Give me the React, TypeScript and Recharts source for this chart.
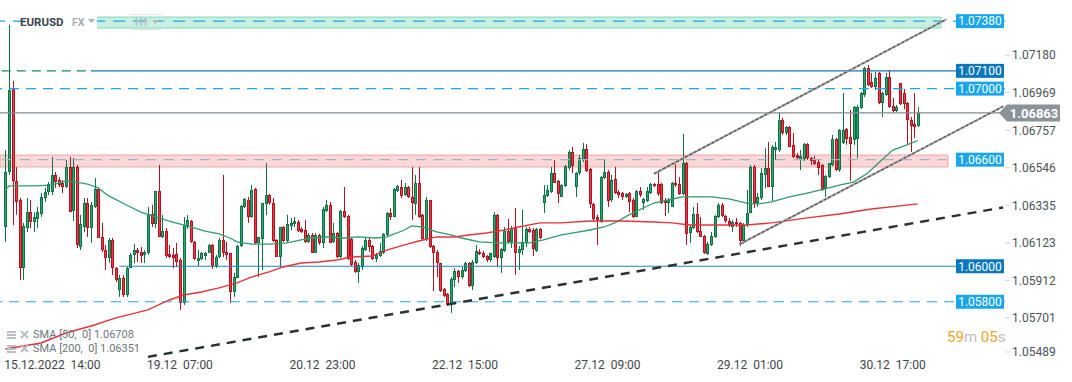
import React from "react";
import { Bar, ComposedChart, Line, ReferenceArea, ReferenceLine, XAxis, YAxis } from "recharts";

// EURUSD H1 candles (oldest first)
const opens = [
  1.06221, 1.06531, 1.06998, 1.0648, 1.06373, 1.0599, 1.06215, 1.06305, 1.06249, 1.06266,
  1.06294, 1.06384, 1.06418, 1.06418, 1.06514, 1.06486, 1.06469, 1.06446, 1.06559, 1.06311,
  1.06559, 1.06108, 1.06221, 1.06356, 1.06215, 1.06334, 1.06435, 1.06165, 1.06091, 1.06046,
  1.06148, 1.0599, 1.05866, 1.05934, 1.05838, 1.0599, 1.06063, 1.06091, 1.0608, 1.06063,
  1.06075, 1.06294, 1.06238, 1.06424, 1.06165, 1.06198, 1.06069, 1.06063, 1.06069, 1.06035,
  1.05793, 1.06221, 1.06255, 1.06137, 1.0603, 1.06041, 1.06058, 1.06075, 1.0612, 1.06001,
  1.06052, 1.06148, 1.0608, 1.06075, 1.05855, 1.05934, 1.06114, 1.06334, 1.06373, 1.06277,
  1.06435, 1.06131, 1.06153, 1.0635, 1.06401, 1.06356, 1.06148, 1.06052, 1.06221, 1.06142,
  1.06227, 1.06238, 1.06249, 1.0621, 1.06204, 1.06137, 1.06176, 1.06075, 1.06176, 1.06131,
  1.06311, 1.06345, 1.06137, 1.06187, 1.06052, 1.06311, 1.06283, 1.06153, 1.06024, 1.05968,
  1.05996, 1.06091, 1.06148, 1.06114, 1.06041, 1.06058, 1.06075, 1.06176, 1.063, 1.06277,
  1.06424, 1.06446, 1.06401, 1.06446, 1.0639, 1.0635, 1.06469, 1.06289, 1.06153, 1.06373,
  1.06114, 1.0608, 1.06018, 1.05872, 1.05844, 1.05782, 1.05923, 1.05973, 1.05939, 1.05973,
  1.06018, 1.05889, 1.06018, 1.0608, 1.06075, 1.06058, 1.06035, 1.06052, 1.06289, 1.06046,
  1.06086, 1.06198, 1.06137, 1.06215, 1.06075, 1.06091, 1.06131, 1.0621, 1.06204, 1.06086,
  1.0621, 1.06356, 1.06396, 1.06418, 1.06525, 1.0648, 1.0639, 1.06452, 1.06553, 1.06643,
  1.06446, 1.06525, 1.06598, 1.0666, 1.06548, 1.0635, 1.06277, 1.06249, 1.06497, 1.06531,
  1.06373, 1.06491, 1.06418, 1.06412, 1.0639, 1.06412, 1.06373, 1.06277, 1.06424, 1.06356,
  1.06367, 1.06412, 1.06463, 1.06463, 1.06463, 1.06373, 1.06356, 1.06334, 1.06469, 1.06463,
  1.06407, 1.06581, 1.06187, 1.06215, 1.06294, 1.06198, 1.0617, 1.06069, 1.0612, 1.06165,
  1.06277, 1.06345, 1.06283, 1.06255, 1.06221, 1.06249, 1.06244, 1.06142, 1.06232, 1.063,
  1.06559, 1.06356, 1.06384, 1.06514, 1.06553, 1.06446, 1.06654, 1.06654, 1.06823, 1.0675,
  1.06784, 1.06683, 1.06626, 1.06604, 1.06604, 1.06688, 1.06609, 1.06598, 1.06587, 1.0657,
  1.06435, 1.06502, 1.0657, 1.06716, 1.06542, 1.06694, 1.06773, 1.06728, 1.06711, 1.06716,
  1.06891, 1.06964, 1.07116, 1.07037, 1.07009, 1.07088, 1.06919, 1.06964, 1.07065, 1.06902,
  1.06874, 1.07032, 1.06975, 1.06919, 1.06823, 1.06801, 1.0679,
];
const highs = [
  1.06654, 1.07358, 1.07043, 1.06559, 1.06384, 1.06244, 1.06384, 1.06373, 1.06305, 1.06334,
  1.06412, 1.06441, 1.06474, 1.06615, 1.06531, 1.06502, 1.06486, 1.06598, 1.06615, 1.06609,
  1.0657, 1.06289, 1.06384, 1.06384, 1.06362, 1.06497, 1.06441, 1.06244, 1.0612, 1.06159,
  1.06159, 1.05996, 1.05951, 1.05951, 1.05996, 1.06075, 1.06125, 1.06103, 1.06108, 1.06091,
  1.06334, 1.06345, 1.06424, 1.0657, 1.06289, 1.06215, 1.0612, 1.06103, 1.06131, 1.06046,
  1.06277, 1.06289, 1.0626, 1.06142, 1.06091, 1.0608, 1.0608, 1.06125, 1.06125, 1.06063,
  1.06159, 1.06514, 1.06137, 1.06075, 1.05962, 1.0612, 1.06345, 1.06384, 1.0639, 1.06457,
  1.06441, 1.06165, 1.06356, 1.06581, 1.06407, 1.06384, 1.06153, 1.06221, 1.06227, 1.06289,
  1.06272, 1.06277, 1.0626, 1.06221, 1.0626, 1.06187, 1.06187, 1.06187, 1.06182, 1.06334,
  1.06373, 1.06362, 1.06244, 1.06193, 1.06317, 1.06446, 1.06289, 1.06159, 1.06035, 1.06018,
  1.06114, 1.06165, 1.06159, 1.0612, 1.06075, 1.06131, 1.06187, 1.06305, 1.06328, 1.06441,
  1.06457, 1.06486, 1.06469, 1.06452, 1.06559, 1.06514, 1.06559, 1.06294, 1.0639, 1.06373,
  1.0612, 1.06091, 1.06018, 1.05878, 1.05849, 1.05939, 1.0599, 1.05979, 1.05996, 1.06024,
  1.06024, 1.06035, 1.0612, 1.06097, 1.06086, 1.06063, 1.06075, 1.06305, 1.06294, 1.06103,
  1.06221, 1.06266, 1.06227, 1.06328, 1.06114, 1.06317, 1.06221, 1.06221, 1.06215, 1.06215,
  1.06215, 1.06457, 1.06457, 1.06559, 1.06598, 1.06486, 1.06463, 1.0657, 1.06654, 1.06671,
  1.06531, 1.06626, 1.06694, 1.06688, 1.06553, 1.06356, 1.06289, 1.06508, 1.06604, 1.06542,
  1.06514, 1.06559, 1.06429, 1.06418, 1.06412, 1.06418, 1.06384, 1.06429, 1.06446, 1.06384,
  1.06446, 1.06469, 1.06469, 1.06542, 1.06469, 1.06384, 1.06384, 1.06474, 1.06576, 1.06502,
  1.06745, 1.06587, 1.06232, 1.06334, 1.06356, 1.06277, 1.06176, 1.06137, 1.06193, 1.06289,
  1.06356, 1.06356, 1.06289, 1.06272, 1.0626, 1.06272, 1.06249, 1.06244, 1.06429, 1.0657,
  1.0657, 1.06412, 1.06553, 1.06666, 1.067, 1.06683, 1.067, 1.06868, 1.06835, 1.0679,
  1.0679, 1.0675, 1.06638, 1.06654, 1.06694, 1.06694, 1.06615, 1.06621, 1.06598, 1.06576,
  1.06514, 1.06581, 1.06739, 1.06722, 1.06773, 1.06975, 1.06778, 1.0688, 1.06902, 1.06908,
  1.06981, 1.07122, 1.07133, 1.07088, 1.07094, 1.07094, 1.06981, 1.07088, 1.07105, 1.06947,
  1.06908, 1.07032, 1.06998, 1.06925, 1.0684, 1.06975, 1.06897,
];
const lows = [
  1.06137, 1.06514, 1.06232, 1.06289, 1.05923, 1.05923, 1.06193, 1.06215, 1.06193, 1.06215,
  1.06277, 1.06362, 1.06401, 1.06401, 1.06441, 1.06446, 1.06412, 1.06441, 1.06305, 1.06255,
  1.06103, 1.06091, 1.06193, 1.06165, 1.06131, 1.06328, 1.06159, 1.0608, 1.05979, 1.06018,
  1.05951, 1.05911, 1.05827, 1.05827, 1.05827, 1.0599, 1.06018, 1.06024, 1.06018, 1.06018,
  1.06063, 1.06221, 1.06215, 1.06165, 1.06159, 1.06046, 1.06046, 1.0599, 1.05996, 1.05754,
  1.05782, 1.0621, 1.06131, 1.06035, 1.06001, 1.06035, 1.06035, 1.06075, 1.05985, 1.0599,
  1.06046, 1.06052, 1.06035, 1.05793, 1.05827, 1.05934, 1.06108, 1.06328, 1.06244, 1.06272,
  1.06125, 1.05939, 1.05979, 1.06289, 1.06345, 1.06137, 1.06052, 1.05996, 1.06137, 1.06137,
  1.06204, 1.06221, 1.06193, 1.06187, 1.06131, 1.06131, 1.06075, 1.06075, 1.0612, 1.06103,
  1.06305, 1.06131, 1.06131, 1.06046, 1.06046, 1.06272, 1.06035, 1.06001, 1.05962, 1.05906,
  1.05979, 1.06086, 1.0608, 1.06035, 1.06024, 1.06052, 1.06069, 1.0617, 1.0626, 1.06277,
  1.06418, 1.06384, 1.06396, 1.06384, 1.0626, 1.06289, 1.06272, 1.06148, 1.06142, 1.06103,
  1.05861, 1.05939, 1.05855, 1.05827, 1.05776, 1.05737, 1.05883, 1.05906, 1.05928, 1.05968,
  1.05883, 1.05866, 1.06013, 1.06063, 1.06046, 1.06024, 1.06024, 1.06046, 1.05996, 1.05962,
  1.0608, 1.06131, 1.06103, 1.05951, 1.05979, 1.06063, 1.06108, 1.06187, 1.06058, 1.0608,
  1.06153, 1.063, 1.0639, 1.06412, 1.06469, 1.06356, 1.0639, 1.06446, 1.06542, 1.06525,
  1.0639, 1.06514, 1.06587, 1.06531, 1.06328, 1.06249, 1.0612, 1.06244, 1.06491, 1.06334,
  1.06362, 1.06407, 1.06384, 1.06373, 1.06384, 1.06305, 1.06272, 1.06277, 1.0639, 1.06317,
  1.06362, 1.06407, 1.06446, 1.06396, 1.0635, 1.06283, 1.063, 1.06334, 1.06446, 1.06401,
  1.06401, 1.0612, 1.06131, 1.0621, 1.06187, 1.06165, 1.06069, 1.06063, 1.06114, 1.06159,
  1.06272, 1.06277, 1.06244, 1.06221, 1.06193, 1.06221, 1.06114, 1.06125, 1.06221, 1.063,
  1.06328, 1.06334, 1.06373, 1.06441, 1.06446, 1.06362, 1.06598, 1.06643, 1.06739, 1.06739,
  1.06671, 1.06609, 1.06598, 1.06542, 1.06593, 1.06598, 1.0657, 1.0657, 1.06514, 1.06424,
  1.0639, 1.06497, 1.06564, 1.06536, 1.06531, 1.06688, 1.06683, 1.0648, 1.06683, 1.06609,
  1.06885, 1.06953, 1.07015, 1.07004, 1.06992, 1.06913, 1.0684, 1.06959, 1.06891, 1.06863,
  1.06868, 1.06908, 1.06885, 1.06683, 1.06643, 1.06722, 1.06784,
];
const closes = [
  1.06531, 1.06992, 1.0648, 1.06362, 1.0599, 1.06227, 1.06305, 1.06249, 1.06277, 1.06305,
  1.0639, 1.06418, 1.06463, 1.06514, 1.06474, 1.06457, 1.06446, 1.06559, 1.06305, 1.06559,
  1.0612, 1.06238, 1.06356, 1.06215, 1.06345, 1.06435, 1.06159, 1.06091, 1.06046, 1.06148,
  1.0599, 1.05923, 1.05934, 1.05838, 1.0599, 1.06063, 1.06091, 1.06075, 1.06058, 1.0608,
  1.06294, 1.06238, 1.06424, 1.06165, 1.06198, 1.06058, 1.06052, 1.06046, 1.06024, 1.05793,
  1.06232, 1.0626, 1.06137, 1.06041, 1.06046, 1.06075, 1.06075, 1.0612, 1.06001, 1.06052,
  1.06148, 1.06075, 1.06063, 1.05855, 1.05939, 1.06114, 1.06339, 1.06379, 1.06277, 1.06429,
  1.06131, 1.06165, 1.06356, 1.06401, 1.06356, 1.06142, 1.06052, 1.06221, 1.06142, 1.06238,
  1.06244, 1.06255, 1.06198, 1.06193, 1.06137, 1.06176, 1.06075, 1.06176, 1.06131, 1.06322,
  1.06345, 1.06131, 1.06187, 1.06052, 1.06311, 1.06277, 1.06041, 1.06007, 1.05968, 1.06007,
  1.06103, 1.06148, 1.06108, 1.06041, 1.06063, 1.06086, 1.06182, 1.063, 1.06277, 1.06435,
  1.06452, 1.06396, 1.06446, 1.0639, 1.06356, 1.06469, 1.06277, 1.06153, 1.06373, 1.06108,
  1.06075, 1.06018, 1.05861, 1.05833, 1.05782, 1.05928, 1.05973, 1.05939, 1.05979, 1.06018,
  1.05889, 1.06024, 1.06086, 1.06069, 1.06052, 1.06035, 1.06075, 1.06289, 1.06046, 1.06097,
  1.06198, 1.06137, 1.06215, 1.06075, 1.06097, 1.06137, 1.0621, 1.06193, 1.06097, 1.0621,
  1.06159, 1.06401, 1.06429, 1.06525, 1.06469, 1.06407, 1.06457, 1.06564, 1.06643, 1.06564,
  1.06525, 1.06609, 1.0666, 1.06536, 1.0635, 1.06266, 1.0626, 1.06502, 1.06531, 1.06367,
  1.06486, 1.06412, 1.06401, 1.0639, 1.06407, 1.06362, 1.06277, 1.06424, 1.06401, 1.06379,
  1.06424, 1.06463, 1.06452, 1.06407, 1.06356, 1.06356, 1.06373, 1.06469, 1.06457, 1.06407,
  1.06581, 1.06182, 1.06221, 1.06294, 1.06193, 1.06165, 1.06075, 1.06125, 1.0617, 1.06283,
  1.06345, 1.06283, 1.06255, 1.06227, 1.06249, 1.06238, 1.06142, 1.06232, 1.063, 1.06559,
  1.06356, 1.0639, 1.06525, 1.06553, 1.06446, 1.06671, 1.06671, 1.06823, 1.0675, 1.06784,
  1.06671, 1.06615, 1.06609, 1.06621, 1.06688, 1.06609, 1.06593, 1.06576, 1.06553, 1.06429,
  1.06508, 1.06581, 1.06716, 1.06542, 1.06767, 1.06767, 1.06716, 1.06688, 1.06897, 1.06897,
  1.06975, 1.07116, 1.0702, 1.07009, 1.0706, 1.06919, 1.06975, 1.07065, 1.06897, 1.06874,
  1.06897, 1.06913, 1.06913, 1.06823, 1.0679, 1.06784, 1.06863,
];

// moving averages, [candle index, value]
const sma50: [number, number][] = [
  [0, 1.06429], [1, 1.06452], [8, 1.06452], [13, 1.06457], [17, 1.0648], [20, 1.06474],
  [23, 1.06463], [26, 1.06441], [29, 1.06396], [34, 1.06345], [38, 1.06305], [43, 1.06272],
  [47, 1.06249], [51, 1.06227], [56, 1.06198], [60, 1.06182], [63, 1.06159], [65, 1.06137],
  [69, 1.06125], [74, 1.06125], [79, 1.06131], [83, 1.06148], [86, 1.06159], [90, 1.06165],
  [95, 1.06159], [99, 1.06165], [104, 1.06159], [107, 1.06165], [112, 1.06204], [114, 1.06227],
  [117, 1.06221], [121, 1.06193], [125, 1.06176], [128, 1.06159], [133, 1.06137], [138, 1.06131],
  [147, 1.06131], [151, 1.06148], [156, 1.06176], [159, 1.06187], [164, 1.06204], [168, 1.06221],
  [171, 1.06244], [175, 1.06289], [179, 1.06328], [182, 1.06356], [186, 1.06373], [190, 1.0639],
  [198, 1.0639], [203, 1.06379], [208, 1.06356], [211, 1.0635], [215, 1.06362], [220, 1.0639],
  [225, 1.06412], [230, 1.06435], [234, 1.06457], [238, 1.06474], [242, 1.06525], [245, 1.06581],
  [249, 1.06654], [253, 1.06683], [256, 1.06708],
];
const sma200: [number, number][] = [
  [0, 1.05534], [10, 1.05568], [17, 1.05624], [25, 1.05669], [31, 1.05709], [40, 1.05754],
  [46, 1.0581], [50, 1.05838], [55, 1.05855], [60, 1.05878], [65, 1.05906], [69, 1.05939],
  [74, 1.05968], [78, 1.05996], [83, 1.06018], [88, 1.06024], [93, 1.06035], [97, 1.06052],
  [103, 1.06058], [107, 1.06091], [112, 1.0612], [116, 1.06142], [121, 1.06165], [126, 1.06165],
  [130, 1.06176], [135, 1.06187], [140, 1.06204], [144, 1.06221], [150, 1.06244], [156, 1.06244],
  [164, 1.06255], [173, 1.06255], [182, 1.06249], [187, 1.06244], [192, 1.06232], [208, 1.06232],
  [215, 1.06244], [225, 1.06272], [234, 1.06294], [243, 1.06322], [256, 1.06351],
];

const timeTicks = [0, 40, 80, 120, 160, 200, 240];
const timeLabels = ["15.12.2022  14:00", "19.12  07:00", "20.12  23:00", "22.12  15:00", "27.12  09:00", "29.12  01:00", "30.12  17:00"];
const priceTicks = [1.05489, 1.05701, 1.05912, 1.06123, 1.06335, 1.06546, 1.06757, 1.06969, 1.0718];

const lastPrice = 1.06863;
const sma50Last = 1.06708;
const sma200Last = 1.06351;
const supportZone: [number, number] = [1.06559, 1.06626];
const targetZone: [number, number] = [1.07341, 1.07403];
const channelUpper: [number, number][] = [[182, 1.06521], [264, 1.0739]];
const channelLower: [number, number][] = [[206, 1.06124], [280, 1.069]];
const longTrend: [number, number][] = [[40, 1.0549], [280, 1.06331]];

const PAD_LEFT = 1;
const PAD_RIGHT = 24;
const W = 1072;
const H = 382;
const FONT = "Roboto, 'Noto Sans', sans-serif";

const BRIGHT = "#1aa6ee";
const DARK = "#0b78bd";

type Row = { i: number; range?: [number, number]; o?: number; c?: number; s50?: number; s200?: number };

const rows: Row[] = [];
for (let i = -PAD_LEFT; i < opens.length + PAD_RIGHT; i++) {
  const r: Row = { i };
  if (i >= 0 && i < opens.length) {
    r.range = [lows[i], highs[i]];
    r.o = opens[i];
    r.c = closes[i];
  }
  rows.push(r);
}
for (const [k, v] of sma50) rows[k + PAD_LEFT].s50 = v;
for (const [k, v] of sma200) rows[k + PAD_LEFT].s200 = v;

function Candle(props: any) {
  const { x, y, width, height, payload } = props;
  if (!payload || !payload.range || !(height > 0)) return null;
  const [lo, hi] = payload.range;
  const k = height / (hi - lo);
  const at = (v: number) => y + (hi - v) * k;
  const up = payload.c >= payload.o;
  const edge = up ? "#0f7246" : "#b3121e";
  const fill = up ? "#2aa86d" : "#ec3a47";
  const cx = Math.round(x + width / 2) + 0.5;
  const top = at(Math.max(payload.o, payload.c));
  const bot = at(Math.min(payload.o, payload.c));
  const bh = Math.max(bot - top, 1);
  return (
    <g>
      <line x1={cx} x2={cx} y1={y} y2={y + height} stroke={edge} strokeWidth={1} />
      <rect x={cx - 1.5} y={top} width={3} height={bh} fill={edge} />
      {bh > 2 && <rect x={cx - 0.5} y={top + 1} width={1} height={bh - 2} fill={fill} />}
    </g>
  );
}

const levelTag = (text: string, bg: string) => (props: any) => {
  const vb = props.viewBox;
  if (!vb) return null;
  const x = vb.x + vb.width - 49;
  return (
    <g>
      <rect x={x} y={vb.y - 7} width={48} height={14} fill={bg} />
      <text x={x + 24} y={vb.y + 4.3} textAnchor="middle" fill="#fff" fontSize={12} fontFamily={FONT}>
        {text}
      </text>
    </g>
  );
};

const priceTag = (props: any) => {
  const vb = props.viewBox;
  if (!vb) return null;
  const x0 = vb.x + vb.width - 6;
  const y = vb.y;
  return (
    <g>
      <polygon
        points={`${x0},${y} ${x0 + 8},${y - 8.5} ${x0 + 61},${y - 8.5} ${x0 + 61},${y + 8.5} ${x0 + 8},${y + 8.5}`}
        fill="#8a9398"
      />
      <text x={x0 + 35} y={y + 4.6} textAnchor="middle" fill="#fff" fontSize={13} fontWeight={700} fontFamily={FONT}>
        {lastPrice.toFixed(5)}
      </text>
    </g>
  );
};

function PriceTick(props: any) {
  const { x, y, payload } = props;
  const ty = Math.min(y - 1.5, 352);
  return (
    <g>
      <line x1={x} x2={x + 5} y1={ty} y2={ty} stroke="#d3d7da" />
      <text x={x + 7} y={ty + 4.3} fontSize={12} fill="#4d5358" fontFamily={FONT}>
        {Number(payload.value).toFixed(5)}
      </text>
    </g>
  );
}

function TimeTick(props: any) {
  const { x, y, payload } = props;
  const k = timeTicks.indexOf(payload.value);
  return (
    <text x={x - 1} y={y + 12} fontSize={12} fill="#3f464b" fontFamily={FONT} style={{ whiteSpace: "pre" }}>
      {timeLabels[k]}
    </text>
  );
}

const seg = (p: [number, number][]) => p.map(([x, y]) => ({ x, y }));

function LegendIcons() {
  return (
    <svg width={24} height={10} style={{ marginRight: 3 }}>
      <rect x={1} y={1} width={9} height={2} fill="#b9bfc4" />
      <rect x={1} y={4} width={9} height={2} fill="#b9bfc4" />
      <rect x={1} y={7} width={9} height={2} fill="#b9bfc4" />
      <path d="M15 1 L22 8 M22 1 L15 8" stroke="#b9bfc4" strokeWidth={2} />
    </svg>
  );
}

export default function App() {
  return (
    <div style={{ position: "absolute", left: 0, top: 0, width: W, height: H, background: "#fff", fontFamily: FONT }}>
      <ComposedChart width={W} height={H} data={rows} margin={{ top: 0, right: 0, bottom: 0, left: 0 }}>
        <XAxis
          dataKey="i"
          type="category"
          height={25}
          axisLine={false}
          tickLine={false}
          tickSize={0}
          tickMargin={0}
          ticks={timeTicks}
          interval={0}
          tick={<TimeTick />}
        />
        <YAxis
          orientation="right"
          type="number"
          width={67}
          domain={[1.05489, 1.07499]}
          allowDataOverflow
          axisLine={false}
          tickLine={false}
          tickSize={0}
          tickMargin={0}
          ticks={priceTicks}
          interval={0}
          tick={<PriceTick />}
        />

        <ReferenceLine y={1.0738} stroke={BRIGHT} strokeDasharray="12 8" strokeWidth={1.2} />
        <ReferenceLine segment={[{ x: 24, y: 1.071 }, { x: 280, y: 1.071 }]} stroke="#1a72ad" strokeWidth={1.2} />
        <ReferenceLine segment={[{ x: -1, y: 1.071 }, { x: 24, y: 1.071 }]} stroke="#178a57" strokeDasharray="9 6" strokeWidth={1.2} />
        <ReferenceLine y={1.07} stroke={BRIGHT} strokeDasharray="10 7" strokeWidth={1.2} />
        <ReferenceLine segment={[{ x: 32, y: 1.06 }, { x: 280, y: 1.06 }]} stroke="#1c83c4" strokeWidth={1.2} />
        <ReferenceLine y={1.058} stroke={BRIGHT} strokeDasharray="10 7" strokeWidth={1.2} />
        <ReferenceLine y={lastPrice} stroke="#838d92" strokeWidth={1.2} />

        <Line dataKey="s50" type="linear" connectNulls dot={false} stroke="#2f9c6a" strokeWidth={1.3} isAnimationActive={false} />
        <Line dataKey="s200" type="linear" connectNulls dot={false} stroke="#e2353c" strokeWidth={1.4} isAnimationActive={false} />

        <Bar dataKey="range" shape={(p: any) => <Candle {...p} />} isAnimationActive={false} />

        <ReferenceLine segment={seg(longTrend)} stroke="#2a3136" strokeWidth={2.4} strokeDasharray="9 7" ifOverflow="visible" />
        <ReferenceLine segment={seg(channelUpper)} stroke="#a2a2a2" strokeWidth={2.2} ifOverflow="visible" />
        <ReferenceLine segment={seg(channelUpper)} stroke="#555" strokeWidth={1.2} strokeDasharray="3 2" ifOverflow="visible" />
        <ReferenceLine segment={seg(channelLower)} stroke="#a2a2a2" strokeWidth={2.2} ifOverflow="visible" />
        <ReferenceLine segment={seg(channelLower)} stroke="#555" strokeWidth={1.2} strokeDasharray="3 2" ifOverflow="visible" />

        <ReferenceArea x1={-1} x2={264} y1={supportZone[0]} y2={supportZone[1]} fill="#f7a6a6" fillOpacity={0.45} stroke="#f2a3a3" strokeWidth={1} />
        <ReferenceLine segment={[{ x: -1, y: 1.066 }, { x: 264, y: 1.066 }]} stroke="#9eb4c9" strokeDasharray="10 8" strokeWidth={1.2} />
        <ReferenceArea x1={26} x2={262} y1={targetZone[0]} y2={targetZone[1]} fill="#8fe2c2" fillOpacity={0.5} stroke="#7fd9b6" strokeWidth={1} />

        <ReferenceLine y={1.0738} stroke="none" label={levelTag("1.07380", BRIGHT)} />
        <ReferenceLine y={1.071} stroke="none" label={levelTag("1.07100", DARK)} />
        <ReferenceLine y={1.07} stroke="none" label={levelTag("1.07000", BRIGHT)} />
        <ReferenceLine y={1.066} stroke="none" label={levelTag("1.06600", BRIGHT)} />
        <ReferenceLine y={1.06} stroke="none" label={levelTag("1.06000", DARK)} />
        <ReferenceLine y={1.058} stroke="none" label={levelTag("1.05800", BRIGHT)} />
        <ReferenceLine y={lastPrice} stroke="none" label={priceTag} />
      </ComposedChart>

      {/* instrument header */}
      <div style={{ position: "absolute", left: 25, top: 13, width: 72, height: 18, background: "#fff" }} />
      <div style={{ position: "absolute", left: 20, top: 15, fontSize: 11.5, fontWeight: 700, color: "#39444d" }}>EURUSD</div>
      <div style={{ position: "absolute", left: 72, top: 16, fontSize: 10.5, fontWeight: 700, color: "#a4adb4" }}>FX</div>
      <svg style={{ position: "absolute", left: 88, top: 19 }} width={8} height={6}>
        <path d="M0 0 L7 0 L3.5 4 Z" fill="#a4adb4" />
      </svg>
      <div
        style={{
          position: "absolute",
          left: 129,
          top: 14,
          width: 35,
          height: 16,
          border: "1px solid #dfe4e7",
          borderRadius: 3,
          boxSizing: "border-box",
        }}
      />
      <div style={{ position: "absolute", left: 135, top: 16, fontSize: 10.5, fontWeight: 700, color: "#b5bdc3" }}>H1</div>
      <svg style={{ position: "absolute", left: 152, top: 20 }} width={8} height={6}>
        <path d="M0 0 L7 0 L3.5 4 Z" fill="#b5bdc3" />
      </svg>

      {/* indicator legend */}
      <div style={{ position: "absolute", left: 6, top: 328, fontSize: 11, color: "#6d767d", lineHeight: "14px" }}>
        <div style={{ display: "flex", alignItems: "center" }}>
          <LegendIcons />
          <span>SMA [50,&nbsp; 0] {sma50Last.toFixed(5)}</span>
        </div>
        <div style={{ display: "flex", alignItems: "center" }}>
          <LegendIcons />
          <span>SMA [200,&nbsp; 0] {sma200Last.toFixed(5)}</span>
        </div>
      </div>

      {/* candle countdown */}
      <div style={{ position: "absolute", left: 947, top: 328, fontSize: 15, whiteSpace: "pre" }}>
        <span style={{ color: "#f5a228" }}>59</span>
        <span style={{ color: "#b9bdc1" }}>m </span>
        <span style={{ color: "#f5a228" }}>05</span>
        <span style={{ color: "#b9bdc1" }}>s</span>
      </div>
    </div>
  );
}
